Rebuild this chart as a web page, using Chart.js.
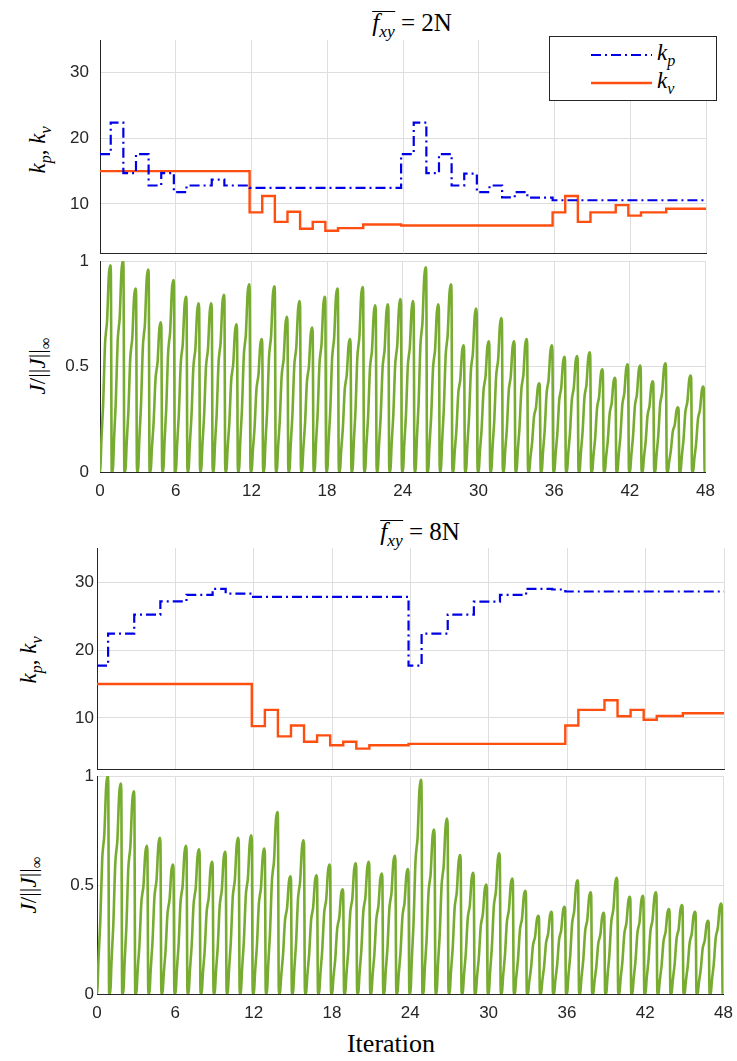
<!DOCTYPE html>
<html>
<head>
<meta charset="utf-8">
<script src="https://cdn.jsdelivr.net/npm/chart.js@4.4.0/dist/chart.umd.min.js"></script>
<style>
  body { margin:0; background:#fff; width:737px; height:1061px; position:relative; overflow:hidden;
         font-family:'Liberation Serif','DejaVu Serif',serif; color:#000; }
  .pan { position:absolute; left:0; }
  .ttl { position:absolute; font-size:25px; line-height:1; white-space:nowrap; transform:translateX(-50%); }
  .ttl .ov { display:inline-block; border-top:1.3px solid #000; line-height:0.8; padding-top:1px; }
  sub { font-size:70%; }
  .ylab { position:absolute; font-size:23px; line-height:1; white-space:nowrap; transform:translate(-50%,-50%) rotate(-90deg); }
  .xlab { position:absolute; font-size:26px; line-height:1; transform:translateX(-50%); }
  .leg { position:absolute; left:549px; top:36px; width:166px; height:63px; border:1px solid #262626;
         background:#fff; z-index:5; }
  .leg .lab { position:absolute; left:107px; font-size:23px; line-height:1; font-style:italic; }
</style>
</head>
<body>

<div class="ttl" style="left:412px;top:10px;"><span class="ov"><i>f</i><sub><i>xy</i></sub></span> = 2N</div>
<div class="ttl" style="left:420px;top:519px;"><span class="ov"><i>f</i><sub><i>xy</i></sub></span> = 8N</div>

<div class="ylab" style="left:40px;top:150px;"><i>k</i><sub><i>p</i></sub>, <i>k</i><sub><i>v</i></sub></div>
<div class="ylab" style="left:40px;top:366px;"><i>J</i>/||<i>J</i>||<sub>∞</sub></div>
<div class="ylab" style="left:31px;top:660px;"><i>k</i><sub><i>p</i></sub>, <i>k</i><sub><i>v</i></sub></div>
<div class="ylab" style="left:31px;top:885px;"><i>J</i>/||<i>J</i>||<sub>∞</sub></div>

<div class="xlab" style="left:391px;top:1031px;">Iteration</div>

<div class="leg">
  <svg width="166" height="63" style="position:absolute;left:0;top:0;">
    <line x1="41" y1="18" x2="102" y2="18" stroke="#0000e6" stroke-width="2.2" stroke-dasharray="10,4,2,4"/>
    <line x1="41" y1="46" x2="102" y2="46" stroke="#ff4f10" stroke-width="2.4"/>
  </svg>
  <div class="lab" style="top:4px;">k<sub>p</sub></div>
  <div class="lab" style="top:32px;">k<sub>v</sub></div>
</div>

<div class="pan" id="p1"><canvas id="c1"></canvas></div>
<div class="pan" id="p2"><canvas id="c2"></canvas></div>
<div class="pan" id="p3"><canvas id="c3"></canvas></div>
<div class="pan" id="p4"><canvas id="c4"></canvas></div>

<script>
// tick values
const iterTicks = [0, 6, 12, 18, 24, 30, 36, 42, 48];
const gainTicks = [10, 20, 30];
const costTicks = [0, 0.5, 1];

// point in each iteration where the gains are updated
const updatePhase = 0.85;

// gains per iteration, f_xy = 2N
const kp2N = [17.6, 22.4, 14.7, 17.6, 12.8, 14.7, 11.8, 12.8, 12.8, 13.7, 12.8, 12.8,
              12.45, 12.45, 12.45, 12.45, 12.45, 12.45, 12.45, 12.45, 12.45, 12.45, 12.45, 12.45,
              17.6, 22.4, 14.7, 17.6, 12.8, 14.6, 11.8, 12.8, 11.0, 11.8, 10.95, 10.95,
              10.55, 10.55, 10.55, 10.55, 10.55, 10.55, 10.55, 10.55, 10.55, 10.55, 10.55, 10.55];
const kv2N = [15, 15, 15, 15, 15, 15, 15, 15, 15, 15, 15, 15,
              8.7, 11.2, 7.25, 8.8, 6.2, 7.25, 5.9, 6.3, 6.3, 6.85, 6.85, 6.85,
              6.7, 6.7, 6.7, 6.7, 6.7, 6.7, 6.7, 6.7, 6.7, 6.7, 6.7, 6.7,
              8.7, 11.2, 7.25, 8.7, 8.7, 9.8, 8.2, 8.7, 8.7, 9.25, 9.25, 9.25];

// gains per iteration, f_xy = 8N
const kp8N = [17.7, 22.4, 22.4, 25.2, 25.2, 27.15, 27.15, 28.1, 28.1, 29.0, 28.3, 28.3,
              27.8, 27.8, 27.8, 27.8, 27.8, 27.8, 27.8, 27.8, 27.8, 27.8, 27.8, 27.8,
              17.7, 22.4, 22.4, 25.2, 25.2, 27.1, 27.1, 28.1, 28.1, 29.0, 29.0, 28.9,
              28.6, 28.6, 28.6, 28.6, 28.6, 28.6, 28.6, 28.6, 28.6, 28.6, 28.6, 28.6];
const kv8N = [15, 15, 15, 15, 15, 15, 15, 15, 15, 15, 15, 15,
              8.8, 11.2, 7.3, 8.9, 6.5, 7.45, 6.0, 6.5, 5.5, 6.0, 6.0, 6.0,
              6.2, 6.2, 6.2, 6.2, 6.2, 6.2, 6.2, 6.2, 6.2, 6.2, 6.2, 6.2,
              8.9, 11.2, 11.2, 12.6, 10.25, 11.2, 9.75, 10.3, 10.3, 10.7, 10.7, 10.7];

// normalised cost peak per iteration
const jPeak2N = [0.98, 1.0, 0.87, 0.96, 0.71, 0.91, 0.83, 0.80, 0.80, 0.84, 0.70, 0.89,
                 0.63, 0.88, 0.735, 0.81, 0.685, 0.83, 0.87, 0.63, 0.877, 0.79, 0.795, 0.82,
                 0.81, 0.97, 0.795, 0.89, 0.60, 0.775, 0.62, 0.73, 0.62, 0.63, 0.42, 0.60,
                 0.546, 0.55, 0.567, 0.487, 0.447, 0.51, 0.504, 0.43, 0.515, 0.307, 0.457, 0.405];
const jPeak8N = [1.0, 0.965, 0.93, 0.68, 0.716, 0.594, 0.68, 0.664, 0.606, 0.652, 0.716, 0.728,
                 0.667, 0.835, 0.54, 0.705, 0.545, 0.594, 0.48, 0.6, 0.606, 0.553, 0.634, 0.573,
                 0.983, 0.754, 0.805, 0.637, 0.556, 0.502, 0.645, 0.53, 0.473, 0.359, 0.377, 0.4,
                 0.522, 0.466, 0.372, 0.533, 0.446, 0.45, 0.466, 0.39, 0.408, 0.377, 0.336, 0.415];

// shape of one cost cycle: position inside the iteration and fraction of its peak
const cyclePhase = [0, 0.06, 0.13, 0.20, 0.27, 0.42, 0.50, 0.58, 0.72, 0.83, 0.88, 0.95];
const cycleShape = [0, 0.03, 0.15, 0.24, 0.33, 0.62, 0.68, 0.73, 0.95, 1.0, 0.97, 0];

const BLUE = '#0000e6', ORANGE = '#ff4f10', GREEN = '#77ac30';
const AXIS = '#262626', GRID = '#dedede';
const TICK_FONT = { family: "'Liberation Sans', Arial, sans-serif", size: 17 };

function stepPoints(vals) {
  const pts = vals.map((v, i) => ({ x: i === 0 ? 0 : i - 1 + updatePhase, y: v }));
  pts.push({ x: 48, y: vals[vals.length - 1] });
  return pts;
}

function cyclePoints(peaks) {
  const pts = [];
  peaks.forEach((p, i) => {
    cyclePhase.forEach((ph, j) => pts.push({ x: i - 0.02 + ph, y: p * cycleShape[j] }));
  });
  pts.push({ x: 48, y: 0 });
  return pts;
}

function makePanel(n, box, datasets, yMin, yMax, yTicks, showX) {
  const padTop = 26, padR = 18, padB = showX ? 0 : 26, xH = showX ? 34 : 0;
  const w = box.right + padR;
  const h = box.bottom - box.top + padTop + padB + xH;
  const wrap = document.getElementById('p' + n);
  wrap.style.top = (box.top - padTop) + 'px';
  const cv = document.getElementById('c' + n);
  cv.width = w; cv.height = h;
  cv.style.width = w + 'px'; cv.style.height = h + 'px';

  return new Chart(cv, {
    type: 'line',
    data: { datasets },
    options: {
      responsive: false, animation: false, devicePixelRatio: 1,
      layout: { padding: { top: padTop, right: padR, bottom: padB, left: 0 } },
      plugins: { legend: { display: false }, tooltip: { enabled: false } },
      elements: { point: { radius: 0 } },
      scales: {
        x: {
          type: 'linear', min: 0, max: 48,
          afterBuildTicks: s => { s.ticks = iterTicks.map(v => ({ value: v })); },
          afterFit: s => { s.height = xH; },
          grid: { color: GRID, lineWidth: 1, drawTicks: false },
          border: { color: AXIS, width: 1 },
          ticks: { display: showX, padding: 9, color: AXIS, font: TICK_FONT, maxRotation: 0,
                   callback: v => String(v) }
        },
        y: {
          type: 'linear', min: yMin, max: yMax,
          afterBuildTicks: s => { s.ticks = yTicks.map(v => ({ value: v })); },
          afterFit: s => { s.width = box.left; },
          grid: { color: GRID, lineWidth: 1, drawTicks: false },
          border: { color: AXIS, width: 1 },
          ticks: { padding: box.tickPad, color: AXIS, font: TICK_FONT, callback: v => String(v) }
        }
      }
    }
  });
}

function gainSets(kp, kv) {
  return [
    { label: 'kp', data: stepPoints(kp), stepped: 'before', borderColor: BLUE, borderWidth: 2.2,
      borderDash: [10, 4, 2, 4], fill: false },
    { label: 'kv', data: stepPoints(kv), stepped: 'before', borderColor: ORANGE, borderWidth: 2.4, fill: false }
  ];
}
function costSets(peaks) {
  return [{ label: 'J', data: cyclePoints(peaks), borderColor: GREEN, borderWidth: 2.6,
            cubicInterpolationMode: 'monotone', fill: false }];
}

makePanel(1, { left: 100, right: 706, top: 40, bottom: 253, tickPad: 11 }, gainSets(kp2N, kv2N), 2.5, 35, gainTicks, false);
makePanel(2, { left: 100, right: 706, top: 261, bottom: 472, tickPad: 11 }, costSets(jPeak2N), 0, 1, costTicks, true);
makePanel(3, { left: 97, right: 724, top: 548, bottom: 769, tickPad: 3 }, gainSets(kp8N, kv8N), 2.5, 35, gainTicks, false);
makePanel(4, { left: 97, right: 724, top: 776, bottom: 994, tickPad: 3 }, costSets(jPeak8N), 0, 1, costTicks, true);
</script>
</body>
</html>
